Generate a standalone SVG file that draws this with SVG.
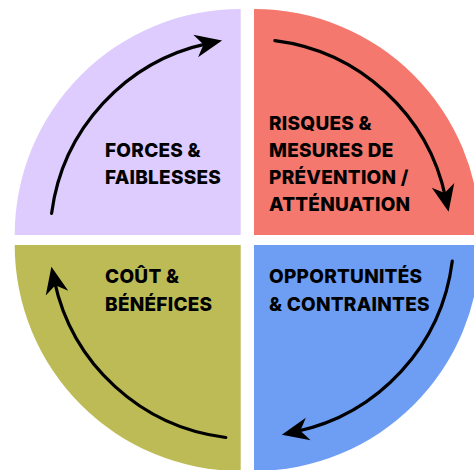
<svg xmlns="http://www.w3.org/2000/svg" width="474" height="470" viewBox="0 0 474 470">
  <style>
    .lbl { font-family: Inter, "Liberation Sans", Arial, sans-serif; font-weight: 800; font-size: 19px; letter-spacing: 0.25px; fill: #000; }
    .arc { fill: none; stroke: #000; stroke-width: 3.2; stroke-linecap: round; marker-end: url(#head); }
  </style>
  <defs>
    <marker id="head" markerUnits="userSpaceOnUse" viewBox="-14 -12 29 24" refX="0" refY="0" markerWidth="29" markerHeight="24" orient="auto">
      <path d="M14,0 L-13,-11.5 L-5,0 L-13,11.5 Z" fill="#000"/>
    </marker>
  </defs>
  <rect width="474" height="470" fill="#fff"/>
  <g id="forces">
    <path d="M240.7,235 L14.7,235 A226,226 0 0 1 240.7,9 Z" fill="#DDCCFD"/>
    <text class="lbl" x="105" y="157.3">FORCES &amp;</text>
    <text class="lbl" x="105" y="183.5">FAIBLESSES</text>
  </g>
  <g id="risques">
    <path d="M254,235 L254,9 A226,226 0 0 1 480,235 Z" fill="#F4786D"/>
    <text class="lbl" x="269" y="130">RISQUES &amp;</text>
    <text class="lbl" x="269" y="157">MESURES DE</text>
    <text class="lbl" x="269" y="183.5">PRÉVENTION /</text>
    <text class="lbl" x="269" y="211">ATTÉNUATION</text>
  </g>
  <g id="opportunites">
    <path d="M254,245 L480,245 A226,226 0 0 1 254,471 Z" fill="#6E9EF4"/>
    <text class="lbl" x="269" y="283.3">OPPORTUNITÉS</text>
    <text class="lbl" x="269" y="310.7">&amp; CONTRAINTES</text>
  </g>
  <g id="cout">
    <path d="M240.7,245 L240.7,471 A226,226 0 0 1 14.7,245 Z" fill="#BDBB56"/>
    <text class="lbl" x="105" y="283.3">COÛT &amp;</text>
    <text class="lbl" x="105" y="310.7">BÉNÉFICES</text>
  </g>
  <g id="connectors">
    <path class="arc" d="M51.6,213.4 A200,200 0 0 1 208.4,43.4"/>
    <path class="arc" d="M274.9,40.6 A200,200 0 0 1 445.7,198"/>
    <path class="arc" d="M452.3,261 A200,200 0 0 1 295.5,431.8"/>
    <path class="arc" d="M225.8,437.5 A200,200 0 0 1 54.3,280.4"/>
  </g>
</svg>
